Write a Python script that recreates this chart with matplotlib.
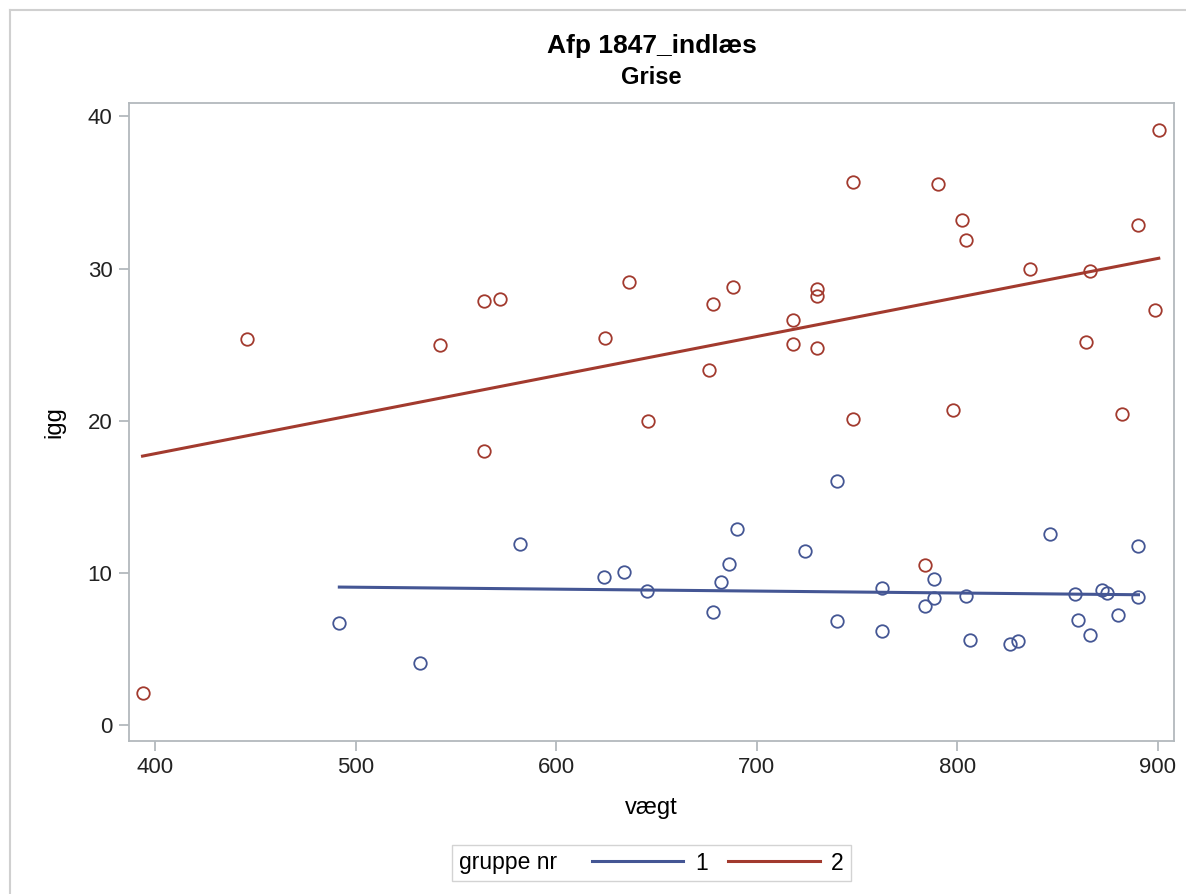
import matplotlib.pyplot as plt
import numpy as np
from matplotlib.offsetbox import HPacker

plt.rcParams['font.family'] = ['Liberation Sans', 'DejaVu Sans']

# gruppe 1 (blue)
vaegt1 = [491.9, 531.9, 582.0, 624.0, 633.8, 645.5, 682.1, 678.0, 686.2, 690.2,
          724.2, 740.1, 740.1, 762.3, 762.3, 788.2, 788.2, 784.1, 804.2, 806.2,
          826.1, 830.3, 846.2, 858.4, 860.0, 866.2, 872.3, 874.4, 880.2, 890.3, 890.3]
igg1 = [6.68, 4.09, 11.91, 9.75, 10.05, 8.80, 9.42, 7.42, 10.60, 12.88,
        11.45, 16.03, 6.83, 8.98, 6.20, 9.57, 8.32, 7.84, 8.50, 5.56,
        5.34, 5.54, 12.53, 8.63, 6.92, 5.93, 8.87, 8.65, 7.23, 11.78, 8.39]

# gruppe 2 (red)
vaegt2 = [393.8, 445.9, 542.0, 563.9, 564.0, 572.0, 624.2, 636.2, 646.0, 676.1,
          678.0, 688.1, 718.1, 718.1, 730.0, 730.0, 730.0, 748.2, 748.2, 784.1,
          790.4, 798.0, 802.3, 804.3, 836.1, 864.2, 866.3, 882.3, 890.3, 898.4, 900.4]
igg2 = [2.12, 25.34, 24.99, 27.90, 18.00, 27.99, 25.43, 29.09, 19.97, 23.30,
        27.70, 28.82, 26.59, 25.05, 28.67, 28.19, 24.77, 35.70, 20.10, 10.51,
        35.55, 20.68, 33.18, 31.87, 29.96, 25.15, 29.83, 20.43, 32.87, 27.27, 39.11]

blue = '#445694'
red = '#A23A2E'
grey = '#B3B9BD'

W, H = 1186, 894
fig = plt.figure(figsize=(W / 100, H / 100), dpi=100)
ax = fig.add_axes([128.5 / W, 1 - 741 / H, (1174.4 - 128.5) / W, (741 - 102.7) / H])

for x, y, c, lab in [(vaegt1, igg1, blue, '1'), (vaegt2, igg2, red, '2')]:
    ax.plot(x, y, 'o', mfc='none', mec=c, ms=9, mew=1.3, zorder=3)
    b, a = np.polyfit(x, y, 1)
    xs = np.array([min(x), max(x)])
    ax.plot(xs, a + b * xs, color=c, lw=2.2, label=lab, zorder=2)

ax.set_xlim(386.8, 908.2)
ax.set_ylim(-1.05, 40.9)
ax.set_xticks([400, 500, 600, 700, 800, 900])
ax.set_yticks([0, 10, 20, 30, 40])
for s in ax.spines.values():
    s.set_color(grey)
    s.set_linewidth(1.3)
ax.tick_params(direction='out', length=7.5, width=1.3, color=grey, labelsize=16,
               labelcolor='#222222', pad=4)

ax.set_xlabel('vægt', fontsize=17, labelpad=14)
ax.set_ylabel('igg', fontsize=17, labelpad=16)

xc = (128.5 + 1174.4) / 2 / W
fig.text(xc, 1 - 46 / H, 'Afp 1847_indlæs', ha='center', va='center',
         fontsize=19, fontweight='bold')
fig.text(xc, 1 - 77 / H, 'Grise', ha='center', va='center',
         fontsize=17, fontweight='bold')

leg = fig.legend(loc='center', bbox_to_anchor=(xc, 1 - 863 / H), ncol=2,
                 title='gruppe nr', fontsize=16.5, title_fontsize=16.5,
                 frameon=True, fancybox=False, handlelength=4.0,
                 handletextpad=0.5, columnspacing=0.9, borderpad=0.3)
leg.get_frame().set_edgecolor('#C8C8C8')
leg.get_frame().set_linewidth(1.0)
# title on the left of the entries, like SAS
box = leg._legend_box
box._children = [HPacker(children=[box._children[0], box._children[1]],
                         pad=0, sep=25, align='center')]

# thin outer border of the screenshot (left and top)
fig.add_artist(plt.Line2D([10 / W, 10 / W], [0, 1 - 9.5 / H],
                          transform=fig.transFigure, color='#D0D0D0', lw=1.5))
fig.add_artist(plt.Line2D([10 / W, 1], [1 - 9.5 / H, 1 - 9.5 / H],
                          transform=fig.transFigure, color='#D0D0D0', lw=1.5))

fig.savefig('out.png', dpi=100)
